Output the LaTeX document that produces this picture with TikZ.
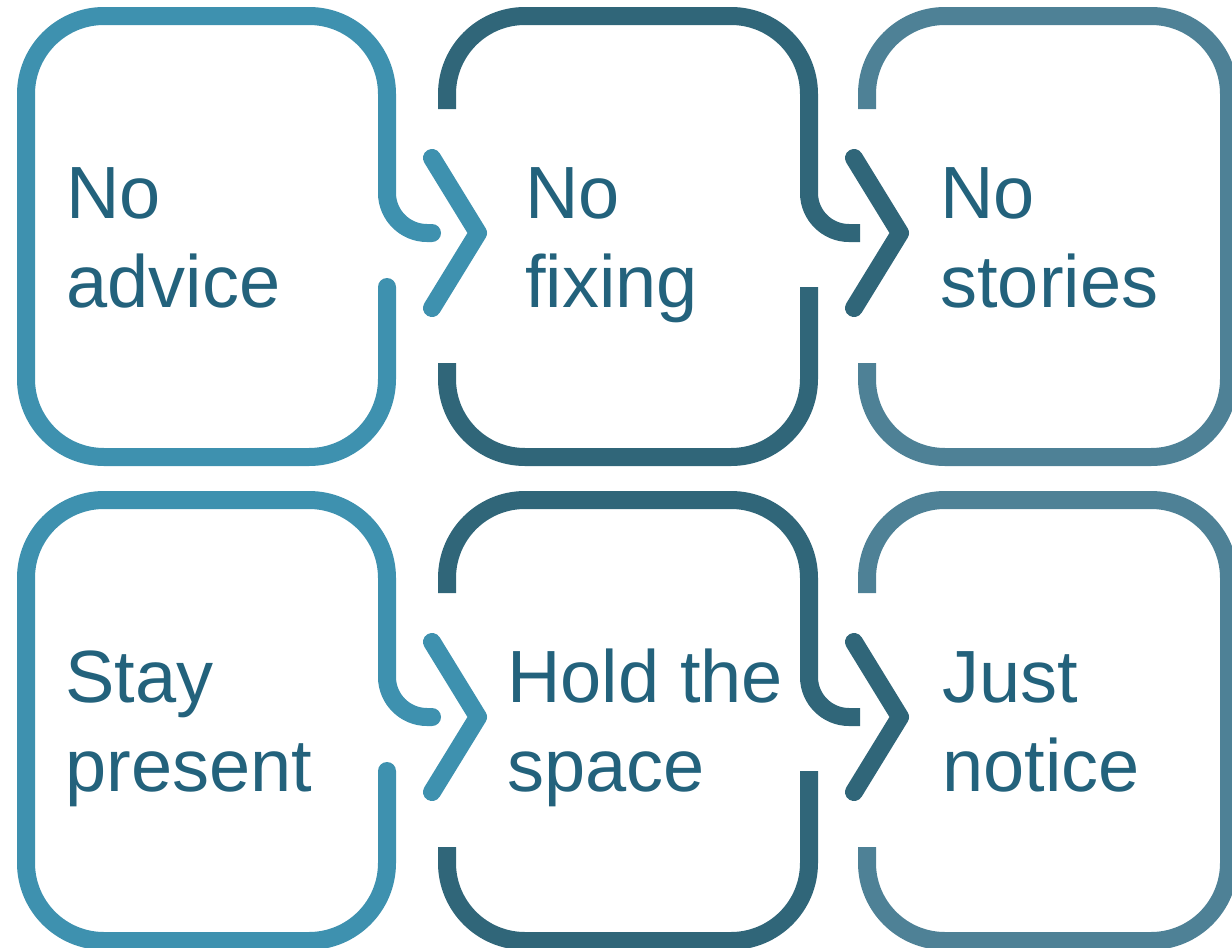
\documentclass[tikz,border=0pt]{standalone}
\usepackage{fontspec}
\setmainfont{Liberation Sans}
\definecolor{tealA}{HTML}{3E91AF}
\definecolor{tealB}{HTML}{306679}
\definecolor{tealC}{HTML}{4E8196}
\definecolor{ink}{HTML}{23627C}

\begin{document}
\begin{tikzpicture}[x=0.5pt, y=-0.5pt,
    frame/.style={line width=9pt, rounded corners=39pt},
    chevron/.style={line width=9pt, line cap=round, line join=round},
    word/.style={anchor=base west, align=left, inner sep=0pt, text=ink,
                 font=\fontsize{37pt}{44.5pt}\selectfont}]
    \clip (0,0) rectangle (1232,948);

    \foreach \Y in {0,484} {
        % Left box (open on the right)
        \draw[frame, tealA, line cap=round] (387,287+\Y) -- (387,457+\Y) -- (26,457+\Y)
            -- (26,16+\Y) -- (387,16+\Y) [sharp corners] -- (387,193+\Y)
            .. controls (387,215+\Y) and (405,233+\Y) .. (427,233+\Y) -- (432,233+\Y);

        % Middle box (open on both sides)
        \draw[frame, tealB] (447,109+\Y) -- (447,16+\Y) -- (809,16+\Y) [sharp corners]
            -- (809,193+\Y) .. controls (809,215+\Y) and (827,233+\Y) .. (849,233+\Y)
            -- (860,233+\Y);
        \draw[frame, tealB] (809,287+\Y) -- (809,457+\Y) -- (447,457+\Y) -- (447,363+\Y);

        % Right box (open on the left)
        \draw[frame, tealC] (867,363+\Y) -- (867,457+\Y) -- (1229,457+\Y)
            -- (1229,16+\Y) -- (867,16+\Y) -- (867,109+\Y);

        % Chevrons
        \draw[chevron, tealA] (432,158+\Y) -- (478,233+\Y) -- (432,308+\Y);
        \draw[chevron, tealB] (854,158+\Y) -- (900,233+\Y) -- (854,308+\Y);
    }

    % Labels
    \node[word] (advice) at (66,307) {No\\advice};
    \node[word] (fixing) at (525,307) {No\\fixing};
    \node[word] (stories) at (940,307) {No\\stories};
    \node[word] (present) at (65,791) {Stay\\present};
    \node[word] (space) at (507,791) {Hold the\\space};
    \node[word] (notice) at (942,791) {Just\\notice};

\end{tikzpicture}
\end{document}
